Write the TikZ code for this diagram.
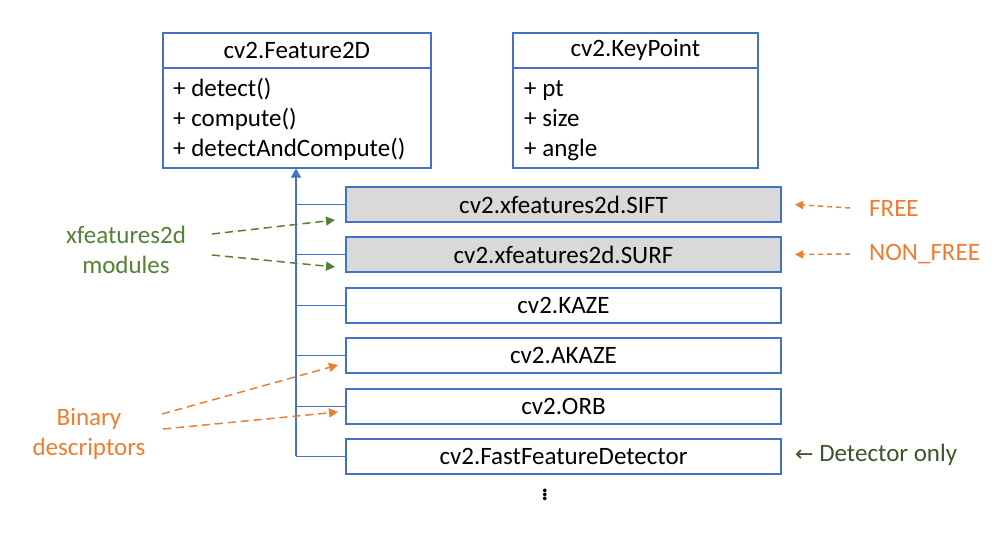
\documentclass[tikz,border=0pt]{standalone}
\usepackage{fontspec}
\setmainfont{Carlito}
\newfontfamily\symfont{DejaVu Sans}
\usetikzlibrary{arrows.meta}
\definecolor{ublue}{HTML}{4472C4}
\definecolor{uorange}{HTML}{ED7D31}
\definecolor{ugreen}{HTML}{548235}
\definecolor{udgreen}{HTML}{3B5727}
\definecolor{ugray}{HTML}{D9D9D9}
\tikzset{
  hdr/.style={draw=ublue, line width=1.6pt, minimum width=268pt, minimum height=35pt, anchor=north west, inner sep=0pt, font=\fontsize{25}{30}\selectfont},
  bodybox/.style={draw=ublue, line width=1.6pt, minimum width=268pt, minimum height=100pt, anchor=north west, inner sep=0pt},
  member/.style={anchor=base west, inner sep=0pt, font=\fontsize{25}{30}\selectfont},
  subbox/.style={draw=ublue, line width=2pt, minimum width=435pt, minimum height=35pt, anchor=north west, inner sep=0pt, font=\fontsize{25}{30}\selectfont},
  trunk/.style={draw=ublue, line width=1.8pt},
  branch/.style={draw=ublue, line width=1.4pt},
  gdash/.style={draw=ugreen, line width=1.5pt, dash pattern=on 8pt off 5pt, -{Triangle[width=9pt,length=9pt]}},
  odash/.style={draw=uorange, line width=1.5pt, dash pattern=on 8pt off 5pt, -{Triangle[width=9pt,length=9pt]}},
  lab/.style={align=center, inner sep=0pt, font=\fontsize{25}{30}\selectfont},
}
\begin{document}
\begin{tikzpicture}[x=1pt,y=-1pt]
\useasboundingbox[fill=white] (0,0) rectangle (1008,536);
% Feature2D class
\node[hdr, minimum width=268pt] (f2h) at (162,32) {cv2.Feature2D};
\node[bodybox] (f2b) at (162,67) {};
\node[member] (f2m1) at (173,96) {+ detect()};
\node[member] (f2m2) at (173,126) {+ compute()};
\node[member] (f2m3) at (173,156) {+ detectAndCompute()};
% KeyPoint class
\node[hdr, minimum width=245pt] (kph) at (512,32) {cv2.KeyPoint};
\node[bodybox, minimum width=245pt] (kpb) at (512,67) {};
\node[member] (kpm1) at (524,96) {+ pt};
\node[member] (kpm2) at (524,126) {+ size};
\node[member] (kpm3) at (524,156) {+ angle};
% subclasses
\node[subbox, fill=ugray] (sift) at (345,186) {cv2.xfeatures2d.SIFT};
\node[subbox, fill=ugray] (surf) at (345,236) {cv2.xfeatures2d.SURF};
\node[subbox] (kaze) at (345,287) {cv2.KAZE};
\node[subbox] (akaze) at (345,337) {cv2.AKAZE};
\node[subbox] (orb) at (345,388) {cv2.ORB};
\node[subbox] (fast) at (345,438) {cv2.FastFeatureDetector};
\node[inner sep=0pt, font=\fontsize{30}{36}\selectfont] (dots) at (545,492) {$\vdots$};
% inheritance trunk
\coordinate (tbot) at (296,455.5);
\draw[trunk, -{Triangle[width=10pt,length=9pt]}] (tbot) -- (f2b.south -| tbot);
\foreach \n in {sift,surf,kaze,akaze,orb,fast}{
  \draw[branch] (tbot |- \n.west) -- (\n.west);
}
% labels left
\node[lab, text=ugreen] (xfmod) at (126,250) {xfeatures2d\\modules};
\coordinate (xa1) at (212,234);
\coordinate (xa2) at (212,255);
\draw[gdash] (xa1) -- ([xshift=-10pt,yshift=-15.5pt]sift.west);
\draw[gdash] (xa2) -- ([xshift=-10pt,yshift=-12.5pt]surf.west);
\node[lab, text=uorange] (bin) at (89,434) {Binary\\descriptors};
\coordinate (ba1) at (162,414);
\coordinate (ba2) at (163,429);
\draw[odash] (ba1) -- ([xshift=-7pt,yshift=-9.5pt]akaze.west);
\draw[odash] (ba2) -- ([xshift=-7pt,yshift=-5.5pt]orb.west);
% labels right
\node[lab, anchor=west, text=uorange] (free) at (869,208) {FREE};
\node[lab, anchor=west, text=uorange] (nonfree) at (869,254) {NON\_FREE};
\draw[odash, dash pattern=on 5pt off 4pt, -{Triangle[width=8pt,length=8pt]}] ([xshift=-19pt]free.west) -- ([xshift=13pt]sift.east);
\draw[odash, dash pattern=on 5pt off 4pt, -{Triangle[width=8pt,length=8pt]}] ([xshift=-19pt]nonfree.west) -- ([xshift=13pt]surf.east);
\node[lab, anchor=west, text=udgreen] (detonly) at (795,455) {{\symfont\fontsize{22}{26}\selectfont ←} Detector only};
\end{tikzpicture}
\end{document}
